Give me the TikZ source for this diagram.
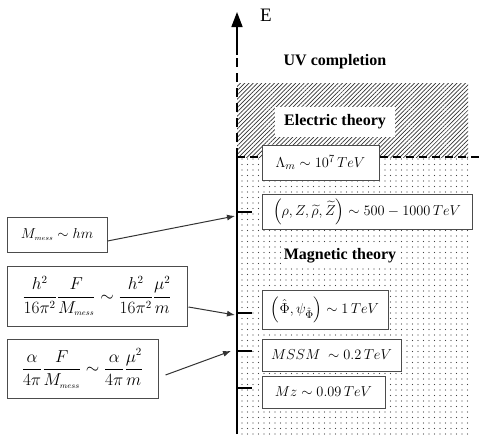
\documentclass[tikz,border=0pt]{standalone}
\usepackage{amsmath}
\usepackage{fontspec}
\setmainfont{Liberation Serif}
\usetikzlibrary{arrows.meta,calc,patterns.meta}

\begin{document}
\begin{tikzpicture}[
    x=1pt, y=-1pt,
    >={Latex[length=8pt,width=6pt]},
    every node/.style={font=\fontsize{15}{18}\selectfont},
    scalebox/.style={draw=black!70, line width=1pt, fill=white, inner sep=0pt},
    regionlabel/.style={font=\fontsize{16}{19}\selectfont\bfseries, fill=white, inner sep=3pt},
    pointer/.style={->, line width=1pt, black!80},
  ]
  \useasboundingbox (0,0) rectangle (479,434);

  % ------------------------------------------------------------------
  % Energy bands: hatched electric theory, dotted magnetic theory
  % ------------------------------------------------------------------
  \def\xE{237}        % energy axis
  \def\xR{468}        % right end of the bands
  \def\yL{157}        % Lambda_m level

  \fill[pattern={Lines[angle=45,distance=3pt,line width=0.7pt]}, pattern color=black!80]
       (\xE,83) rectangle (\xR,\yL);
  \fill[pattern={Dots[distance=5.5pt,radius=0.6pt]}, pattern color=black!75]
       (\xE,\yL) rectangle (\xR,434);

  % region labels (white background over the fill)
  \node[regionlabel, fill=none] (uv) at (335,62) {UV completion};
  \node[regionlabel, minimum width=120pt, minimum height=30pt] (electric) at (335,122) {Electric theory};
  \node[regionlabel, minimum width=118pt, minimum height=24pt] (magnetic) at (340,256) {Magnetic theory};

  % ------------------------------------------------------------------
  % Energy axis: solid, dashed across the electric band, solid on top
  % ------------------------------------------------------------------
  \draw[line width=1.6pt] (\xE,434) -- (\xE,\yL);
  \draw[line width=1.6pt, dash pattern=on 9pt off 6pt] (\xE,\yL) -- (\xE,55);
  \draw[line width=1.6pt, -{Triangle[length=15pt,width=11pt]}] (\xE,55) -- (\xE,12);
  \node[font=\fontsize{19}{22}\selectfont] (elabel) at (266,15) {E};

  % Lambda_m threshold
  \draw[line width=1.5pt, dash pattern=on 8pt off 5pt] (\xE,\yL) -- (479,\yL);

  % ticks on the axis
  \foreach \yy in {212,313,351,388} {
    \draw[line width=1.6pt] (\xE,\yy) -- ++(15,0);
  }

  % ------------------------------------------------------------------
  % Scales on the right of the axis
  % ------------------------------------------------------------------
  \node[scalebox, minimum width=117pt, minimum height=35pt] (lambdam) at (320.5,162.5)
       {$\Lambda_{m}\sim 10^{7}\,TeV$};
  \node[scalebox, minimum width=210pt, minimum height=35pt] (mesons) at (367,211.5)
       {$\left(\rho,Z,\widetilde{\rho},\widetilde{Z}\right)\sim 500-1000\,TeV$};
  \node[scalebox, minimum width=126pt, minimum height=39pt] (phihat) at (325,309.5)
       {$\left(\hat{\Phi},\psi_{\hat{\Phi}}\right)\sim 1\,TeV$};
  \node[scalebox, minimum width=139pt, minimum height=32pt] (mssm) at (331.5,355)
       {$MSSM\ \sim 0.2\,TeV$};
  \node[scalebox, minimum width=123pt, minimum height=32pt] (mz) at (323.5,392)
       {$Mz\sim 0.09\,TeV$};

  % ------------------------------------------------------------------
  % Mass relations on the left, pointing at the axis
  % ------------------------------------------------------------------
  \node[scalebox, minimum width=100pt, minimum height=35pt] (mess) at (57,234.5)
       {$M_{\scriptscriptstyle mess}\sim hm$};
  \node[scalebox, minimum width=180pt, minimum height=60pt, font=\fontsize{16}{19}\selectfont] (fracH) at (97,296)
       {$\dfrac{h^2}{16\pi^2}\dfrac{F}{M_{\scriptscriptstyle mess}}\sim\dfrac{h^2}{16\pi^2}\dfrac{\mu^2}{m}$};
  \node[scalebox, minimum width=151pt, minimum height=59pt, font=\fontsize{16}{19}\selectfont] (fracA) at (82.5,368.5)
       {$\dfrac{\alpha}{4\pi}\dfrac{F}{M_{\scriptscriptstyle mess}}\sim\dfrac{\alpha}{4\pi}\dfrac{\mu^2}{m}$};

  \coordinate (tipmess) at (235,216);
  \coordinate (tipH) at (235,315);
  \coordinate (tipA) at (231,351);

  \draw[pointer] ($(mess.east)+(0,6.5)$) -- (tipmess);
  \draw[pointer] ($(fracH.east)+(1,11)$) -- (tipH);
  \draw[pointer] ($(fracA.east)+(7,6.5)$) -- (tipA);

\end{tikzpicture}
\end{document}
